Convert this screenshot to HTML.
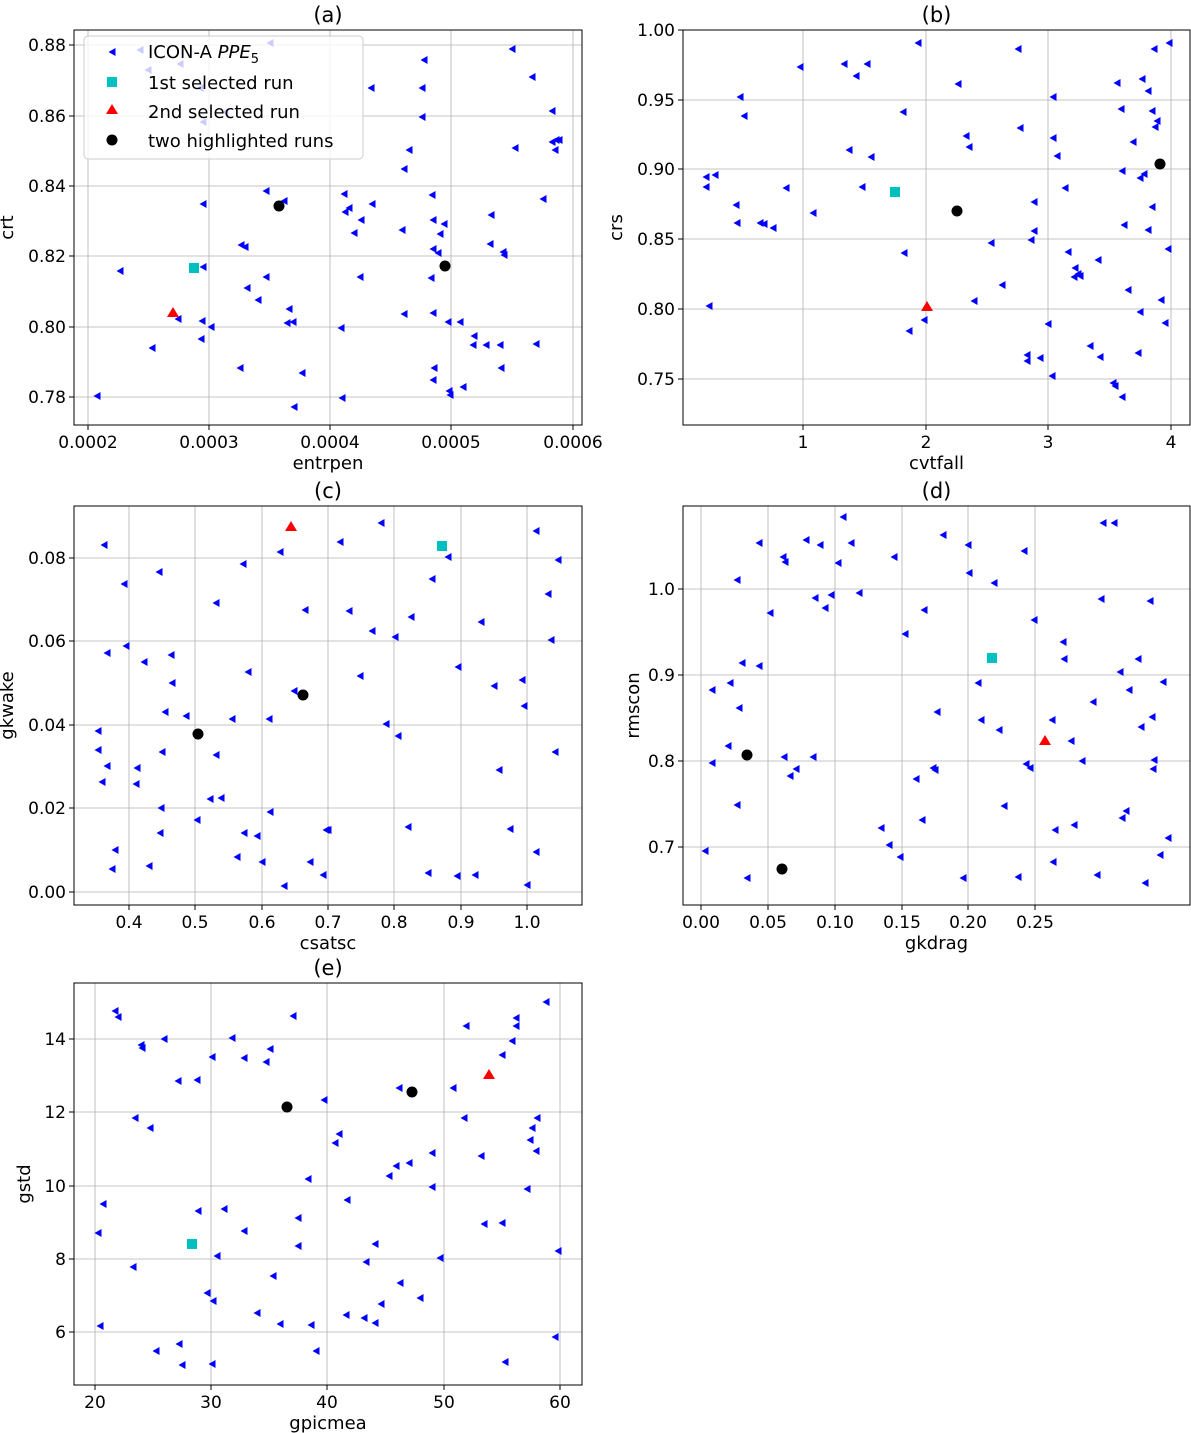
<!DOCTYPE html>
<html><head><meta charset="utf-8"><style>
body{margin:0;background:#fff}
svg{display:block}
text{font-family:"DejaVu Sans","Liberation Sans",sans-serif;fill:#000}
</style></head><body>
<svg id="s" width="1191" height="1433" xmlns="http://www.w3.org/2000/svg">
<defs><path id="tri" d="M-3.5,0 L3.5,-4 L3.5,4 Z" fill="#0000ff"/></defs>
</svg>
<script>
var S=document.getElementById('s'),NS='http://www.w3.org/2000/svg';
function el(t,a,txt){var e=document.createElementNS(NS,t);for(var k in a)e.setAttribute(k,a[k]);if(txt!==undefined)e.textContent=txt;S.appendChild(e);return e;}
var P=[
{b:[74,30,582,425],t:'(a)',xl:'entrpen',yl:'crt',xt:[[88,'0.0002'],[209,'0.0003'],[330,'0.0004'],[451,'0.0005'],[573,'0.0006']],yt:[[397,'0.78'],[327,'0.80'],[256,'0.82'],[186,'0.84'],[116,'0.86'],[45,'0.88']],
pts:[[97,396],[120,271],[152,348],[178,319],[202,321],[201,339],[203,267],[203,204],[203,122],[211,327],[240,368],[241,245],[245,247],[247,288],[258,300],[266,277],[266,191],[284,201],[287,323],[289,309],[293,322],[294,407],[302,373],[342,398],[341,328],[344,194],[345,212],[349,208],[354,233],[360,277],[361,220],[371,88],[372,204],[404,169],[422,117],[422,88],[404,314],[402,230],[409,150],[431,278],[433,249],[433,220],[432,195],[424,60],[433,313],[434,368],[433,380],[438,253],[440,234],[444,224],[448,322],[449,391],[450,395],[460,322],[463,387],[473,345],[474,336],[486,345],[490,244],[491,215],[500,345],[501,368],[503,252],[504,255],[512,49],[515,148],[532,77],[536,344],[543,199],[552,111],[552,142],[555,150],[556,140],[559,140],[270,43],[140,50],[148,70],[180,64],[200,88],[225,112]],
c:[194,268],r:[173,313],k:[[279,206],[445,266]]},
{b:[683,30,1190,425],t:'(b)',xl:'cvtfall',yl:'crs',xt:[[803,'1'],[926,'2'],[1048,'3'],[1171,'4']],yt:[[379,'0.75'],[309,'0.80'],[239,'0.85'],[169,'0.90'],[100,'0.95'],[30,'1.00']],
pts:[[706,177],[706,187],[709,306],[715,175],[736,205],[737,223],[744,116],[740,97],[760,223],[764,224],[773,228],[786,188],[800,67],[813,213],[844,64],[849,150],[856,76],[862,187],[867,64],[871,157],[903,112],[904,253],[909,331],[918,43],[924,320],[958,84],[966,136],[969,147],[974,301],[991,243],[1002,285],[1018,49],[1020,128],[1027,361],[1027,355],[1031,240],[1034,202],[1034,231],[1040,358],[1048,324],[1052,376],[1053,138],[1053,97],[1057,156],[1065,188],[1068,252],[1075,268],[1078,274],[1074,277],[1080,276],[1090,346],[1098,260],[1100,357],[1113,383],[1115,386],[1117,83],[1121,109],[1122,397],[1122,171],[1124,225],[1128,290],[1133,142],[1138,353],[1140,312],[1140,178],[1142,79],[1144,174],[1148,230],[1148,91],[1152,207],[1152,111],[1154,49],[1155,127],[1157,121],[1161,300],[1165,323],[1168,249],[1169,43]],
c:[895,192],r:[927,307],k:[[957,211],[1160,164]]},
{b:[74,506,582,905],t:'(c)',xl:'csatsc',yl:'gkwake',xt:[[129,'0.4'],[195,'0.5'],[262,'0.6'],[328,'0.7'],[394,'0.8'],[461,'0.9'],[527,'1.0']],yt:[[892,'0.00'],[808,'0.02'],[725,'0.04'],[641,'0.06'],[558,'0.08']],
pts:[[104,545],[98,731],[98,750],[102,782],[107,766],[107,653],[112,869],[115,850],[124,584],[126,646],[136,784],[137,768],[144,662],[149,866],[159,572],[160,833],[161,808],[162,752],[165,712],[171,655],[172,683],[186,716],[197,820],[210,799],[216,603],[216,755],[221,798],[232,719],[237,857],[243,564],[244,833],[248,672],[257,836],[262,862],[269,719],[270,812],[280,552],[284,886],[294,691],[305,610],[310,862],[323,875],[326,830],[328,830],[340,542],[349,611],[360,676],[372,631],[381,523],[386,724],[395,637],[398,736],[408,827],[411,617],[428,873],[432,579],[448,557],[457,876],[458,667],[475,875],[481,622],[494,686],[499,770],[510,829],[522,680],[524,706],[527,885],[536,531],[536,852],[548,594],[551,640],[555,752],[558,560]],
c:[442,546],r:[291,527],k:[[198,734],[303,695]]},
{b:[683,506,1190,905],t:'(d)',xl:'gkdrag',yl:'rmscon',xt:[[701,'0.00'],[768,'0.05'],[835,'0.10'],[902,'0.15'],[968,'0.20'],[1035,'0.25']],yt:[[847,'0.7'],[761,'0.8'],[675,'0.9'],[589,'1.0']],
pts:[[705,851],[712,690],[712,763],[728,746],[730,683],[737,580],[739,708],[737,805],[742,663],[747,878],[759,543],[759,666],[770,613],[783,557],[785,562],[784,757],[790,776],[796,769],[806,540],[815,598],[813,757],[820,545],[825,608],[831,595],[838,563],[843,517],[851,543],[859,593],[881,828],[889,845],[894,557],[900,857],[905,634],[916,779],[922,820],[924,610],[933,768],[935,770],[937,712],[943,535],[963,878],[968,545],[969,573],[978,683],[981,720],[994,583],[999,730],[1004,806],[1018,877],[1024,551],[1026,764],[1030,768],[1034,620],[1052,720],[1053,862],[1055,830],[1063,642],[1064,659],[1071,741],[1074,825],[1082,761],[1093,702],[1097,875],[1103,523],[1101,599],[1114,523],[1120,672],[1122,818],[1126,811],[1129,690],[1138,659],[1141,727],[1145,883],[1150,601],[1152,717],[1154,760],[1153,769],[1160,855],[1163,682],[1168,838]],
c:[992,658],r:[1045,741],k:[[747,755],[782,869]]},
{b:[74,983,582,1385],t:'(e)',xl:'gpicmea',yl:'gstd',xt:[[95,'20'],[211,'30'],[327,'40'],[444,'50'],[560,'60']],yt:[[1332,'6'],[1259,'8'],[1186,'10'],[1112,'12'],[1039,'14']],
pts:[[98,1233],[100,1326],[103,1204],[115,1011],[118,1017],[133,1267],[135,1118],[141,1045],[142,1048],[150,1128],[156,1351],[164,1039],[179,1344],[178,1081],[182,1365],[197,1080],[198,1211],[207,1293],[213,1301],[212,1057],[212,1364],[217,1256],[224,1209],[232,1038],[244,1231],[244,1058],[257,1313],[266,1062],[270,1049],[273,1276],[280,1324],[293,1016],[298,1218],[298,1246],[308,1179],[311,1325],[316,1351],[324,1100],[335,1143],[339,1134],[346,1315],[347,1200],[364,1318],[366,1262],[375,1244],[375,1323],[381,1304],[389,1176],[396,1166],[399,1088],[400,1283],[409,1163],[420,1298],[432,1187],[432,1153],[440,1258],[453,1088],[464,1118],[466,1026],[481,1156],[484,1224],[502,1055],[502,1223],[505,1362],[512,1041],[516,1026],[516,1018],[527,1189],[530,1140],[532,1128],[536,1151],[537,1118],[546,1002],[555,1337],[558,1251]],
c:[192,1244],r:[489,1075],k:[[287,1107],[412,1092]]}
];
P.forEach(function(p){
 var b=p.b;
 p.xt.forEach(function(t){el('line',{x1:t[0],x2:t[0],y1:b[1],y2:b[3],stroke:'#b0b0b0','stroke-width':0.8});el('line',{x1:t[0],x2:t[0],y1:b[3],y2:b[3]+5,stroke:'#000'});el('text',{x:t[0],y:b[3]+23,'font-size':17,'text-anchor':'middle'},t[1]);});
 p.yt.forEach(function(t){el('line',{y1:t[0],y2:t[0],x1:b[0],x2:b[2],stroke:'#b0b0b0','stroke-width':0.8});el('line',{y1:t[0],y2:t[0],x1:b[0]-5,x2:b[0],stroke:'#000'});el('text',{x:b[0]-8,y:t[0]+6,'font-size':17,'text-anchor':'end'},t[1]);});
 p.pts.forEach(function(q){el('use',{href:'#tri',x:q[0],y:q[1]});});
 el('rect',{x:p.c[0]-5,y:p.c[1]-5,width:10,height:10,fill:'#00bfbf'});
 el('path',{d:'M'+p.r[0]+','+(p.r[1]-6)+' l6,10 l-12,0 Z',fill:'#ff0000'});
 p.k.forEach(function(q){el('circle',{cx:q[0],cy:q[1],r:5.5,fill:'#000'});});
 el('rect',{x:b[0],y:b[1],width:b[2]-b[0],height:b[3]-b[1],fill:'none',stroke:'#000','stroke-width':1});
 el('text',{x:(b[0]+b[2])/2,y:b[1]-8,'font-size':21,'text-anchor':'middle'},p.t);
 el('text',{x:(b[0]+b[2])/2,y:b[3]+44,'font-size':18,'text-anchor':'middle'},p.xl);
 var yx=b[0]-(p.yt[0][1].length>3?61:44),yc=(b[1]+b[3])/2;
 el('text',{x:yx,y:yc,'font-size':18,'text-anchor':'middle',transform:'rotate(-90 '+yx+' '+yc+')'},p.yl);
});
el('rect',{x:84,y:36,width:279,height:123,rx:4,fill:'#fff','fill-opacity':0.8,stroke:'#ccc'});
el('use',{href:'#tri',x:112,y:52});
el('rect',{x:107,y:77,width:10,height:10,fill:'#00bfbf'});
el('path',{d:'M112,104 l6,10 l-12,0 Z',fill:'#ff0000'});
el('circle',{cx:112,cy:140,r:5.5,fill:'#000'});
var t1=el('text',{x:148,y:58,'font-size':18},'ICON-A ');
var ts=document.createElementNS(NS,'tspan');ts.setAttribute('font-style','italic');ts.textContent='PPE';t1.appendChild(ts);
var ts2=document.createElementNS(NS,'tspan');ts2.setAttribute('font-size',13);ts2.setAttribute('dy',5);ts2.textContent='5';t1.appendChild(ts2);
el('text',{x:148,y:89,'font-size':18},'1st selected run');
el('text',{x:148,y:118,'font-size':18},'2nd selected run');
el('text',{x:148,y:147,'font-size':18},'two highlighted runs');
</script>
</body></html>
